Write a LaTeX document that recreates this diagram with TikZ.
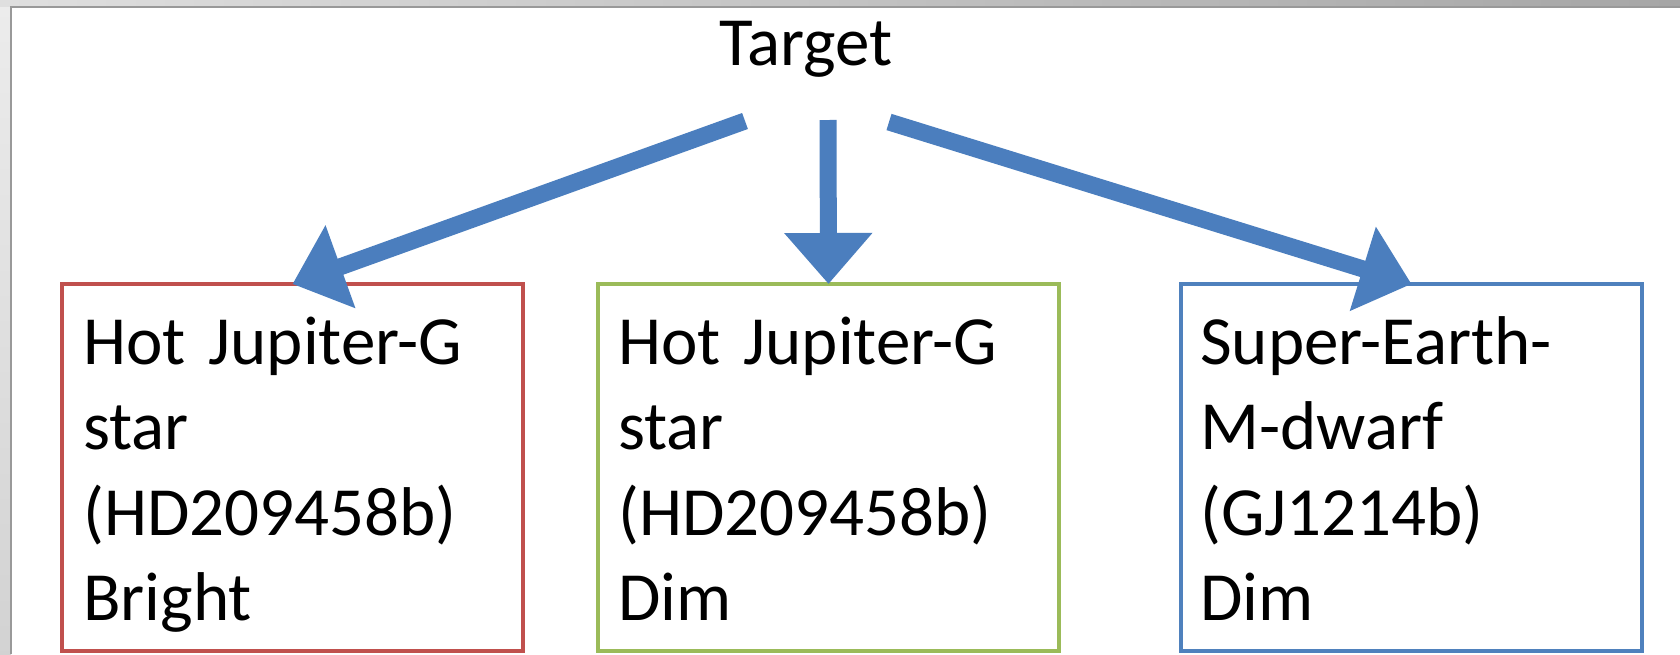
\documentclass[tikz,border=0pt]{standalone}
\usepackage{fontspec}
\setmainfont{Carlito}
\usetikzlibrary{arrows.meta}
\definecolor{arrowblue}{RGB}{75,126,190}
\definecolor{boxred}{RGB}{192,80,77}
\definecolor{boxgreen}{RGB}{155,187,89}
\definecolor{boxblue}{RGB}{79,129,189}
\tikzset{
	planetbox/.style={draw,line width=4pt,minimum width=461pt,minimum height=367pt,inner sep=0pt,outer sep=0pt},
	boxtext/.style={anchor=base west,inner sep=0pt,text width=440pt,align=left,font=\fontsize{69}{85.5}\selectfont},
	flow/.style={draw=arrowblue,line width=17pt,-{Triangle[length=51pt,width=85pt]}}
}
\begin{document}
\begin{tikzpicture}[x=1pt,y=1pt]
	\useasboundingbox (0,0) rectangle (1680,-654);
	\fill[white] (0,0) rectangle (1680,-654);
	\shade[left color=gray!25,right color=gray!70] (0,0) rectangle (1680,-7);
	\shade[top color=gray!15,bottom color=gray!35] (0,-7) rectangle (11,-654);
	\draw[gray!80,line width=1.5pt] (11,-654) -- (11,-7) -- (1680,-7);

	\node[font=\fontsize{69}{85.5}\selectfont,anchor=base,inner sep=0pt] (target) at (806,-65) {Target};

	\node[planetbox,draw=boxred] (redbox) at (292.5,-467.5) {};
	\node[planetbox,draw=boxgreen] (greenbox) at (828.5,-467.5) {};
	\node[planetbox,draw=boxblue] (bluebox) at (1411.5,-467.5) {};

	\node[boxtext] (redtext) at ([shift={(21,-80)}]redbox.north west) {Hot Jupiter-G\\star\\(HD209458b)\\Bright};
	\node[boxtext] (greentext) at ([shift={(20,-80)}]greenbox.north west) {Hot Jupiter-G\\star\\(HD209458b)\\Dim};
	\node[boxtext] (bluetext) at ([shift={(19,-80)}]bluebox.north west) {Super-Earth-\\M-dwarf\\(GJ1214b)\\Dim};

	\coordinate (leftstart) at (745,-121);
	\coordinate (midstart) at (828,-120);
	\coordinate (rightstart) at (889,-122);

	\draw[flow] (leftstart) -- (redbox.north);
	\draw[flow] (midstart) -- (greenbox.north);
	\draw[flow] (rightstart) -- (bluebox.north);
\end{tikzpicture}
\end{document}
